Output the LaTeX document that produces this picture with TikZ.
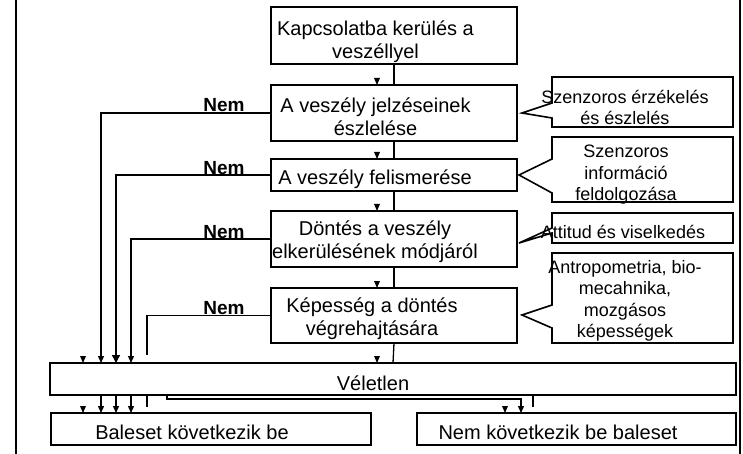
\documentclass[tikz,border=0pt]{standalone}
\usepackage{fontspec}
\setmainfont{Liberation Sans}
\usetikzlibrary{arrows.meta,calc}
\begin{document}
\begin{tikzpicture}[x=1pt,y=-1pt,
  mbox/.style={draw,line width=1.6pt,inner sep=0pt,outer sep=0pt},
  cbox/.style={inner sep=0pt,outer sep=0pt},
  mtext/.style={align=center,inner sep=0pt,font=\fontsize{20}{23}\selectfont},
  ctext/.style={align=center,inner sep=0pt,font=\fontsize{18}{21.5}\selectfont},
  nemlbl/.style={inner sep=0pt,anchor=base,font=\fontsize{19}{22}\selectfont\bfseries},
  conn/.style={line width=1.3pt},
  arr/.style={conn,-{Triangle[width=6pt,length=7pt]}},
  bigarr/.style={conn,-{Triangle[width=8pt,length=8pt]}},
  cout/.style={line width=1.6pt,line join=miter},
  tip/.pic={\fill (-3,-7) -- (3,-7) -- (0,0) -- cycle;}
]
\useasboundingbox (0,0) rectangle (743,454);

% frame
\draw[line width=1.7pt] (16,0) -- (16,454);
\draw[line width=1.7pt] (740,0) -- (740,454);

% main boxes
\node[mbox,minimum width=246pt,minimum height=57pt] (b1) at (394,35.5) {};
\node[mbox,minimum width=246pt,minimum height=56pt] (b2) at (394,113) {};
\node[mbox,minimum width=246pt,minimum height=32pt] (b3) at (394,175) {};
\node[mbox,minimum width=246pt,minimum height=56pt] (b4) at (394,239) {};
\node[mbox,minimum width=246pt,minimum height=55pt] (b5) at (394,315.5) {};
\node[mbox,minimum width=686pt,minimum height=32pt] (v) at (393,379) {};
\node[mbox,minimum width=320pt,minimum height=32pt] (bal) at (211,429) {};
\node[mbox,minimum width=319pt,minimum height=32pt] (nb) at (576.5,429) {};

% texts of main boxes
\node[mtext] (t1) at (375.5,41.5) {Kapcsolatba kerülés a\\veszéllyel};
\node[mtext] (t2) at (375.5,117) {A veszély jelzéseinek\\észlelése};
\node[mtext] (t3) at (375,179) {A veszély felismerése};
\node[mtext] (t4) at (375,242) {Döntés a veszély\\elkerülésének módjáról};
\node[mtext] (t5) at (372,319) {Képesség a döntés\\végrehajtására};
\node[mtext] (tv) at (373,383) {Véletlen};
\node[mtext] (tbal) at (192,432) {Baleset következik be};
\node[mtext] (tnb) at (558,432) {Nem következik be baleset};

% x positions
\coordinate (x0) at (83,0);
\coordinate (x1) at (101,0);
\coordinate (x2) at (116,0);
\coordinate (x3) at (131,0);
\coordinate (x4) at (147,0);
\coordinate (x5) at (167,0);
\coordinate (x6) at (505,0);
\coordinate (x7) at (521,0);
\coordinate (x8) at (533,0);
\coordinate (tx) at (377,0);

% main column connectors
\draw[conn] (b1.south) -- (b2.north);
\draw[conn] (b2.south) -- (b3.north);
\draw[conn] (b3.south) -- (b4.north);
\draw[conn] (b4.south) -- (b5.north);
\draw[conn] (b5.south) -- (v.north);
\pic at (b2.north -| tx) {tip};
\pic at (b3.north -| tx) {tip};
\pic at (b4.north -| tx) {tip};
\pic at (b5.north -| tx) {tip};
\pic at (v.north -| tx) {tip};

% Nem branches
\draw[arr] (b2.west) -| (x1 |- v.north);
\draw[bigarr] (b3.west) -| (x2 |- v.north);
\draw[arr] (b4.west) -| (x3 |- v.north);
\draw[conn] (b5.west) -| ($(x4 |- v.north)+(0,-8)$);
\node[nemlbl] (n1) at (224,112) {Nem};
\node[nemlbl] (n2) at (224,175) {Nem};
\node[nemlbl] (n3) at (224,238) {Nem};
\node[nemlbl] (n4) at (224,314) {Nem};
\pic at (x0 |- v.north) {tip};

% below Veletlen
\draw[arr] (x1 |- v.south) -- (x1 |- bal.north);
\draw[arr] (x2 |- v.south) -- (x2 |- bal.north);
\draw[arr] (x3 |- v.south) -- (x3 |- bal.north);
\draw[conn] (x4 |- v.south) -- ++(0,12);
\pic at (x0 |- bal.north) {tip};
\draw[arr] (x5 |- v.south) -- ++(0,4) -| (x7 |- nb.north);
\pic at (x6 |- nb.north) {tip};
\draw[conn] (x8 |- v.south) -- ++(0,12);

% callouts
\node[cbox,minimum width=181pt,minimum height=50pt] (c1) at (642.5,102) {};
\node[cbox,minimum width=181pt,minimum height=65pt] (c2) at (642.5,169.5) {};
\node[cbox,minimum width=181pt,minimum height=30pt] (c3) at (642.5,228) {};
\node[cbox,minimum width=181pt,minimum height=90pt] (c4) at (642.5,298) {};
\coordinate (c1tip) at (522,113);
\coordinate (c2tip) at (519,175);
\coordinate (c3tip) at (519,243);
\coordinate (c4tip) at (522,315);
\draw[cout] (c1.west |- 0,118) -- (c1.south west) -- (c1.south east) -- (c1.north east) -- (c1.north west) -- (c1.west |- 0,103) -- (c1tip) -- cycle;
\draw[cout] (c2.west |- 0,193) -- (c2.south west) -- (c2.south east) -- (c2.north east) -- (c2.north west) -- (c2.west |- 0,159) -- (c2tip) -- cycle;
\draw[cout] (c3.west |- 0,233) -- (c3.south west) -- (c3.south east) -- (c3.north east) -- (c3.north west) -- (c3.west |- 0,228) -- (c3tip) -- cycle;
\draw[cout] (c4.west |- 0,328) -- (c4.south west) -- (c4.south east) -- (c4.north east) -- (c4.north west) -- (c4.west |- 0,305) -- (c4tip) -- cycle;
\node[ctext] (ct1) at (625,107.5) {Szenzoros érzékelés\\és észlelés};
\node[ctext] (ct2) at (626,175) {Szenzoros\\információ\\feldolgozása};
\node[ctext] (ct3) at (623,232) {Attitud és viselkedés};
\node[ctext] (ct4) at (625,301) {Antropometria, bio-\\mecahnika,\\mozgásos\\képességek};
\end{tikzpicture}
\end{document}
